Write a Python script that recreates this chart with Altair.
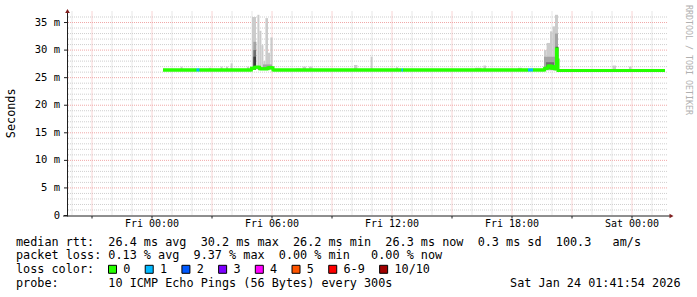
import altair as alt
import pandas as pd

# ---------------- data (hours relative to Fri 00:00, values in ms) ----------------
x_domain = [-4.25, 25.75]
y_domain = [0, 37]

x_tick_hours = [0, 6, 12, 18, 24]
x_tick_labels = ["Fri 00:00", "Fri 06:00", "Fri 12:00", "Fri 18:00", "Sat 00:00"]
y_tick_values = [0, 5, 10, 15, 20, 25, 30, 35]
y_tick_labels = ["0", "5 m", "10 m", "15 m", "20 m", "25 m", "30 m", "35 m"]

x_grid_minor = list(range(-4, 26))
x_grid_major = list(range(-3, 26, 3))
y_grid_minor = [v for v in range(1, 37) if v % 5]
y_grid_major = [5, 10, 15, 20, 25, 30, 35]

# median rtt change points (step after), loss count per step
med_t = [0.55, 2.22, 2.38, 4.97, 5.13, 5.38, 5.80, 6.05, 12.47, 12.55, 18.80, 19.05,
         19.63, 19.80, 19.97, 20.05, 20.13, 20.22, 20.26, 20.30, 25.65]
med_ms = [26.4, 26.4, 26.4, 26.7, 26.9, 26.6, 26.8, 26.4, 26.4, 26.4, 26.4, 26.4,
          26.7, 27.1, 26.7, 27.0, 26.6, 30.2, 28.2, 26.3, 26.3]
med_loss = [0, 1, 0, 0, 0, 0, 0, 0, 1, 0, 1, 0,
            0, 0, 0, 0, 0, 0, 0, 0, 0]

# smoke (ping spread): start, end, low, high, depth level (0 = outer ... 3 = inner)
smoke_t0 = [1.43, 2.85, 3.43, 3.70, 3.93, 4.75, 7.20, 7.53, 7.85, 10.10, 10.93, 12.20,
            16.15, 16.57, 18.30, 23.03, 23.85,
            5.00, 5.27, 5.37, 5.47, 5.57, 5.67, 5.80, 5.92,
            5.07, 5.55, 5.07, 5.07,
            19.60, 19.73, 19.90, 20.03, 20.15,
            19.60, 20.15, 19.70, 20.18]
smoke_t1 = [1.53, 2.95, 3.53, 3.80, 4.03, 4.85, 7.43, 7.70, 8.03, 10.27, 11.03, 12.30,
            16.48, 16.70, 18.50, 23.20, 23.98,
            5.20, 5.37, 5.47, 5.57, 5.67, 5.80, 5.90, 6.03,
            5.22, 6.00, 5.20, 5.20,
            19.73, 19.90, 20.03, 20.15, 20.30,
            20.15, 20.30, 20.10, 20.32]
smoke_lo = [26.4] * 17 + [26.4] * 8 + [26.5, 26.5, 26.5, 26.5] + [26.3] * 5 + [26.5, 26.5, 26.6, 26.4]
smoke_hi = [27.0, 26.8, 27.0, 27.0, 27.6, 27.0, 26.7, 27.0, 27.0, 27.3, 28.8, 26.9,
            26.8, 27.2, 26.8, 27.2, 27.0,
            36.0, 36.4, 33.5, 30.9, 28.0, 35.8, 29.5, 32.3,
            31.5, 27.4, 30.0, 28.8,
            30.0, 31.3, 33.4, 34.3, 36.4,
            28.8, 33.0, 27.8, 30.6]
smoke_level = [0] * 17 + [0] * 8 + [1, 1, 2, 3] + [0] * 5 + [1, 1, 2, 3]

loss_labels = ["0", "1", "2", "3", "4", "5", "6-9", "10/10"]
loss_colors = ["#26ff00", "#00b8ff", "#0059ff", "#7e00ff", "#ff00ff", "#ff5500", "#ff0000", "#a10000"]

row1 = "median rtt:  26.4 ms avg  30.2 ms max  26.2 ms min  26.3 ms now  0.3 ms sd  100.3   am/s"
row2 = "packet loss: 0.13 % avg  9.37 % max  0.00 % min   0.00 % now"
row3 = "loss color:"
row4 = "probe:       10 ICMP Echo Pings (56 Bytes) every 300s"
stamp = "Sat Jan 24 01:41:54 2026"
y_title = "Seconds"
watermark = "RRDTOOL / TOBI OETIKER"

# ---------------- styling / layout ----------------
W, H = 600, 204
PAD_L, PAD_T = 67, 11.5
FONT = "DejaVu Sans Mono"
MINOR = "#cfcfcf"
MAJOR = "#f0a8a8"
AXIS = "#1f1f1f"
ARROW = "#7f1f1f"
SHADES = ["#cbcbcb", "#a4a4a4", "#6e6e6e", "#3a3a3a"]
LEG_FS = 11.8
CW = LEG_FS * 0.602


def nb(s):
    return s.replace(" ", "\u00a0")


xsc = alt.Scale(domain=x_domain, nice=False, zero=False)
ysc = alt.Scale(domain=y_domain, nice=False, zero=False)
one = pd.DataFrame({"k": [0]})

layers = []

# grid
layers.append(alt.Chart(pd.DataFrame({"v": y_grid_minor})).mark_rule(color=MINOR, strokeDash=[1, 1], strokeWidth=1)
              .encode(y=alt.Y("v:Q", scale=ysc, axis=None)))
layers.append(alt.Chart(pd.DataFrame({"h": [h for h in x_grid_minor if h not in x_grid_major]}))
              .mark_rule(color=MINOR, strokeDash=[1, 1], strokeWidth=1)
              .encode(x=alt.X("h:Q", scale=xsc, axis=None)))
layers.append(alt.Chart(pd.DataFrame({"v": y_grid_major})).mark_rule(color=MAJOR, strokeDash=[1, 1], strokeWidth=1)
              .encode(y=alt.Y("v:Q", scale=ysc, axis=None)))
layers.append(alt.Chart(pd.DataFrame({"h": x_grid_major})).mark_rule(color=MAJOR, strokeDash=[1, 1], strokeWidth=1)
              .encode(x=alt.X("h:Q", scale=xsc, axis=None)))

# smoke
smoke = pd.DataFrame({"t0": smoke_t0, "t1": smoke_t1, "lo": smoke_lo, "hi": smoke_hi,
                      "c": [SHADES[l] for l in smoke_level]})
layers.append(alt.Chart(smoke).mark_rect().encode(
    x=alt.X("t0:Q", scale=xsc, axis=None), x2="t1:Q",
    y=alt.Y("lo:Q", scale=ysc, axis=None), y2="hi:Q",
    color=alt.Color("c:N", scale=None)))

# median line
med = pd.DataFrame({"t": med_t, "v": med_ms})
layers.append(alt.Chart(med).mark_line(interpolate="step-after", strokeWidth=3, color=loss_colors[0]).encode(
    x=alt.X("t:Q", scale=xsc, axis=None), y=alt.Y("v:Q", scale=ysc, axis=None)))
seg = pd.DataFrame({"t0": med_t[:-1], "t1": med_t[1:], "v": med_ms[:-1],
                    "c": [loss_colors[l] for l in med_loss[:-1]]})
layers.append(alt.Chart(seg).mark_rule(strokeWidth=3).encode(
    x=alt.X("t0:Q", scale=xsc, axis=None), x2="t1:Q",
    y=alt.Y("v:Q", scale=ysc, axis=None), color=alt.Color("c:N", scale=None)))

# axes lines, ticks, arrows
layers.append(alt.Chart(one).mark_rule(color=AXIS, strokeWidth=1).encode(
    x=alt.value(0.5), y=alt.value(H + 1), y2=alt.value(0)))
layers.append(alt.Chart(one).mark_rule(color=AXIS, strokeWidth=1).encode(
    x=alt.value(-4), x2=alt.value(W + 3), y=alt.value(H + 0.5)))
layers.append(alt.Chart(pd.DataFrame({"v": y_tick_values})).mark_rule(color=AXIS).encode(
    y=alt.Y("v:Q", scale=ysc, axis=None), x=alt.value(-3), x2=alt.value(0.5)))
layers.append(alt.Chart(pd.DataFrame({"h": x_grid_major})).mark_rule(color=AXIS).encode(
    x=alt.X("h:Q", scale=xsc, axis=None), y=alt.value(H + 0.5), y2=alt.value(H + 3)))
layers.append(alt.Chart(one).mark_point(shape="triangle-up", filled=True, size=22, color=ARROW, opacity=1).encode(
    x=alt.value(0.5), y=alt.value(-0.5)))
layers.append(alt.Chart(one).mark_point(shape="triangle-right", filled=True, size=22, color=ARROW, opacity=1).encode(
    x=alt.value(W + 4.5), y=alt.value(H + 0.5)))

# tick labels
layers.append(alt.Chart(pd.DataFrame({"v": y_tick_values, "lab": y_tick_labels})).mark_text(
    font=FONT, fontSize=10.5, align="right", baseline="middle", color="#000000").encode(
    y=alt.Y("v:Q", scale=ysc, axis=None), x=alt.value(-7), text="lab:N"))
layers.append(alt.Chart(pd.DataFrame({"h": x_tick_hours, "lab": [nb(s) for s in x_tick_labels]})).mark_text(
    font=FONT, fontSize=10, align="center", baseline="middle", color="#000000").encode(
    x=alt.X("h:Q", scale=xsc, axis=None), y=alt.value(224.3 - PAD_T), text="lab:N"))

# titles
layers.append(alt.Chart(pd.DataFrame({"s": [y_title]})).mark_text(
    font=FONT, fontSize=11.8, angle=270, align="center", baseline="middle", color="#000000").encode(
    x=alt.value(10.7 - PAD_L), y=alt.value(113.3 - PAD_T), text="s:N"))
layers.append(alt.Chart(pd.DataFrame({"s": [nb(watermark)]})).mark_text(
    font=FONT, fontSize=8.3, angle=90, align="center", baseline="middle", color="#b0b0b0").encode(
    x=alt.value(688 - PAD_L), y=alt.value(60 - PAD_T), text="s:N"))

# legend rows
rows_y = [241.7, 255.3, 269.3, 282.7]
rows = pd.DataFrame({"s": [nb(row1), nb(row2), nb(row3), nb(row4)], "y": [y - PAD_T for y in rows_y]})
layers.append(alt.Chart(rows).mark_text(
    font=FONT, fontSize=LEG_FS, align="left", baseline="middle", color="#000000").encode(
    x=alt.value(16 - PAD_L), y=alt.Y("y:Q", scale=None), text="s:N"))
layers.append(alt.Chart(pd.DataFrame({"s": [nb(stamp)]})).mark_text(
    font=FONT, fontSize=LEG_FS, align="right", baseline="middle", color="#000000").encode(
    x=alt.value(680.5 - PAD_L), y=alt.value(rows_y[3] - PAD_T), text="s:N"))

# loss colour boxes
box_left = []
pos = 108.3
for lab in loss_labels:
    box_left.append(pos)
    pos += len(lab) * CW + 29.6
boxes = pd.DataFrame({"bx": [b + 4.2 - PAD_L for b in box_left],
                      "tx": [b + 15 - PAD_L for b in box_left],
                      "lab": loss_labels, "c": loss_colors})
layers.append(alt.Chart(boxes).mark_square(size=64, stroke="#000000", strokeWidth=1, opacity=1).encode(
    x=alt.X("bx:Q", scale=None), y=alt.value(rows_y[2] - PAD_T), fill=alt.Fill("c:N", scale=None)))
layers.append(alt.Chart(boxes).mark_text(
    font=FONT, fontSize=LEG_FS, align="left", baseline="middle", color="#000000").encode(
    x=alt.X("tx:Q", scale=None), y=alt.value(rows_y[2] - PAD_T), text="lab:N"))

chart = alt.layer(*layers).properties(
    width=W, height=H,
    padding={"left": PAD_L, "top": PAD_T, "right": 697 - PAD_L - W, "bottom": 297 - PAD_T - H},
    autosize=alt.AutoSizeParams(type="none"),
    background="white",
).configure_view(stroke=None)

chart.save("out.html", embed_options={"renderer": "svg", "actions": False})
